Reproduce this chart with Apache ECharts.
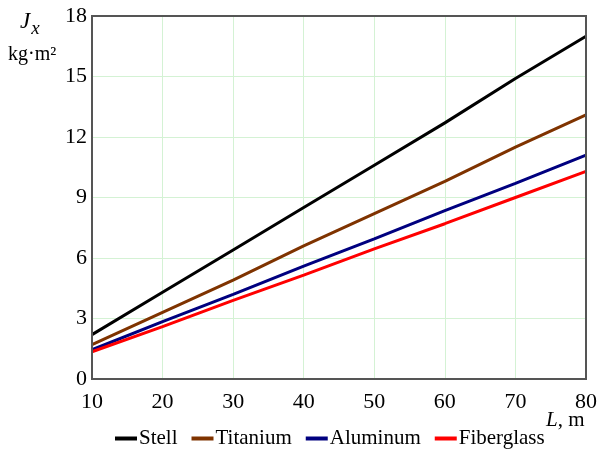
<!DOCTYPE html>
<html><head><meta charset="utf-8">
<script src="https://cdn.jsdelivr.net/npm/echarts@6/dist/echarts.min.js"></script>
<style>html,body{margin:0;padding:0;background:#fff}#c{width:601px;height:452px}</style>
</head><body><div id="c"></div>
<script>
const lengths = [10, 20, 30, 40, 50, 60, 70, 80];
const stell = [2.2, 4.3, 6.4, 8.5, 10.6, 12.7, 14.9, 17.0];
const titanium = [1.7, 3.3, 4.9, 6.6, 8.2, 9.8, 11.5, 13.1];
const aluminum = [1.45, 2.85, 4.2, 5.6, 6.95, 8.35, 9.7, 11.1];
const fiberglass = [1.35, 2.6, 3.9, 5.15, 6.45, 7.7, 9.0, 10.3];
const seriesNames = ['Stell', 'Titanium', 'Aluminum', 'Fiberglass'];
const colors = ['#000000', '#7f3300', '#00007f', '#ff0000'];
const values = [stell, titanium, aluminum, fiberglass];

const font = '"Liberation Serif", "Times New Roman", serif';
const chart = echarts.init(document.getElementById('c'));
chart.setOption({
  animation: false,
  grid: {left: 92, right: 15, top: 16, bottom: 73},
  xAxis: {
    type: 'value', min: 10, max: 80, interval: 10,
    axisLine: {show: false},
    axisTick: {show: false},
    axisLabel: {fontFamily: font, fontSize: 22, color: '#000', margin: 12},
    splitLine: {show: true, lineStyle: {color: '#d4f2d4', width: 1}}
  },
  yAxis: {
    type: 'value', min: 0, max: 18, interval: 3,
    axisLine: {show: false},
    axisTick: {show: false},
    axisLabel: {fontFamily: font, fontSize: 22, color: '#000', margin: 5},
    splitLine: {show: true, lineStyle: {color: '#d4f2d4', width: 1}}
  },
  legend: {
    top: 423, left: 110,
    itemWidth: 22, itemHeight: 4, itemGap: 14,
    icon: 'rect',
    textStyle: {fontFamily: font, fontSize: 21, color: '#000', padding: [0,0,0,-3]},
    data: seriesNames
  },
  graphic: [
    {type: 'rect', z: 100, shape: {x: 92, y: 16, width: 494, height: 363}, style: {fill: 'none', stroke: '#555', lineWidth: 2}, silent: true},
    {type: 'text', left: 20, top: 10, style: {text: '{j|J}{s|x}', rich: {j: {fontFamily: font, fontStyle: 'italic', fontSize: 23, fill: '#000'}, s: {fontFamily: font, fontStyle: 'italic', fontSize: 19, fill: '#000', padding: [14,0,0,1]}}}},
    {type: 'text', left: 8, top: 45, style: {text: 'kg·m²', font: '20px ' + font, fill: '#000'}},
    {type: 'text', left: 546, top: 410, style: {text: '{l|L}{r|, m}', rich: {l: {fontFamily: font, fontStyle: 'italic', fontSize: 21, fill: '#000'}, r: {fontFamily: font, fontSize: 21, fill: '#000'}}}}
  ],
  series: seriesNames.map((n, i) => ({
    name: n, type: 'line', showSymbol: false, symbol: 'none',
    color: colors[i],
    lineStyle: {width: 3, color: colors[i]},
    data: lengths.map((x, k) => [x, values[i][k]])
  }))
});
</script></body></html>
